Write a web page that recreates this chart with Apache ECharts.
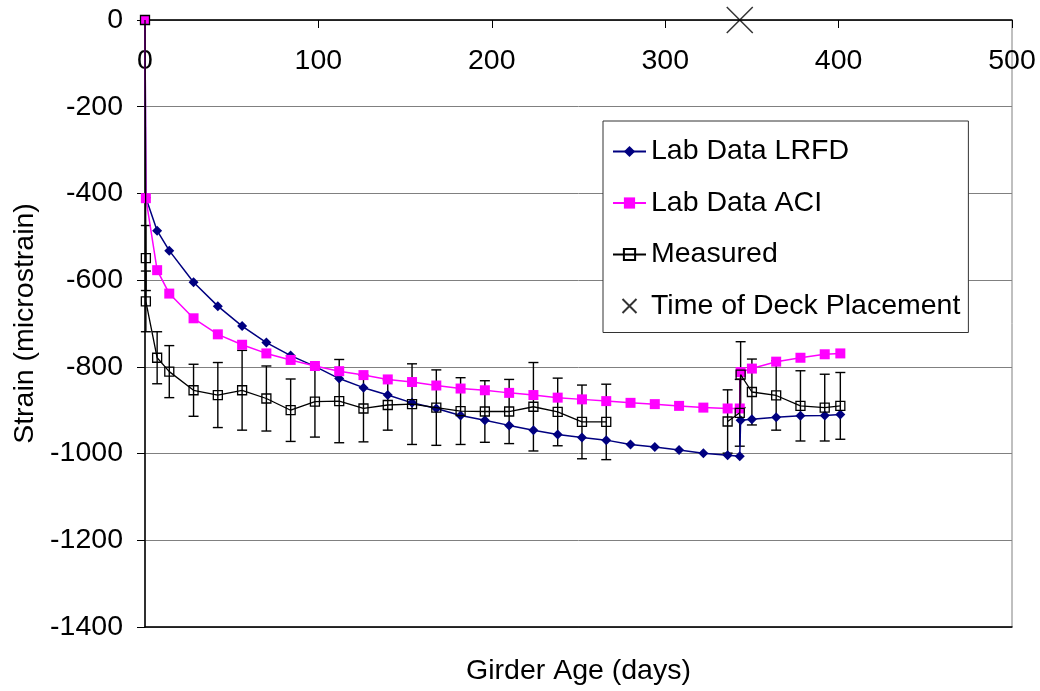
<!DOCTYPE html>
<html>
<head>
<meta charset="utf-8">
<script src="https://cdn.jsdelivr.net/npm/echarts@6/dist/echarts.min.js"></script>
<style>
html,body{margin:0;padding:0;background:#fff;}
#chart{width:1040px;height:691px;}
</style>
</head>
<body>
<div id="chart"></div>
<script>
// ---- data ----
const modelDays = [0, 0.5, 7, 14, 28, 42, 56, 70, 84, 98, 112, 126, 140, 154, 168, 182, 196, 210, 224, 238, 252, 266, 280, 294, 308, 322, 336, 343, 343.5, 350, 364, 378, 392, 401];
const lrfdStrain = [0, -410, -486, -532, -605, -660, -706, -744, -774, -799, -827, -848, -865, -883, -896, -912, -923, -935, -946, -956, -963, -969, -979, -985, -992, -999, -1004, -1006, -923, -921, -916, -913, -912, -910];
const aciStrain = [0, -411, -577, -631, -688, -725, -749, -769, -784, -798, -810, -819, -829, -835, -843, -850, -854, -860, -865, -871, -875, -879, -883, -886, -890, -894, -896, -896, -812, -804, -788, -779, -771, -769];

const measDays = [0, 0.5, 0.5, 7, 14, 28, 42, 56, 70, 84, 98, 112, 126, 140, 154, 168, 182, 196, 210, 224, 238, 252, 266, 336, 343, 343.5, 350, 364, 378, 392, 401];
const measStrain = [0, -549, -649, -779, -811, -854, -865, -854, -873, -900, -880, -879, -896, -888, -886, -894, -902, -903, -903, -892, -904, -927, -927, -926, -906, -818, -858, -866, -890, -894, -890];
const measErr = [0, 75, 70, 60, 60, 60, 75, 92, 75, 72, 82, 96, 77, 58, 93, 87, 77, 71, 74, 102, 78, 85, 87, 73, 77, 76, 76, 80, 81, 77, 77];
const measGapAfterDay = 266; // no measurements between 266 and 336 days

const deckDay = 343;
const deckStrain = 0;

const xTicks = {min: 0, max: 500, interval: 100};
const yTicks = {min: -1400, max: 0, interval: 200};

const seriesNames = ['Lab Data LRFD', 'Lab Data ACI', 'Measured', 'Time of Deck Placement'];
const xTitle = 'Girder Age (days)';
const yTitle = 'Strain (microstrain)';

// ---- build ----
const FONT = '"Liberation Sans", Arial, sans-serif';
const FS = 28.5;
const lrfdData = modelDays.map((d, i) => [d, lrfdStrain[i]]);
const aciData = modelDays.map((d, i) => [d, aciStrain[i]]);
const measData = [];
measDays.forEach((d, i) => {
  measData.push([d, measStrain[i]]);
  if (d === measGapAfterDay) measData.push(['-', '-']);
});
const errData = [];
measDays.forEach((d, i) => {
  if (measErr[i] > 0) errData.push([d, measStrain[i] - measErr[i], measStrain[i] + measErr[i]]);
});

const chart = echarts.init(document.getElementById('chart'), null, {renderer: 'canvas'});
chart.setOption({
  animation: false,
  backgroundColor: '#fff',
  textStyle: {fontFamily: FONT},
  grid: {left: 145, top: 20, right: 28, bottom: 63, show: true, borderColor: '#808080', borderWidth: 1, containLabel: false},
  legend: {
    data: seriesNames,
    orient: 'vertical',
    left: 603, top: 121,
    padding: [16, 8, 12, 9],
    itemGap: 22.5,
    itemWidth: 33, itemHeight: 14,
    borderColor: '#333', borderWidth: 1,
    backgroundColor: '#fff',
    textStyle: {fontSize: FS, color: '#000', fontFamily: FONT},
    selectedMode: false
  },
  xAxis: [{
    type: 'value', position: 'top',
    min: xTicks.min, max: xTicks.max, interval: xTicks.interval,
    axisLine: {show: true, onZero: false, lineStyle: {color: '#000', width: 1.5}},
    axisTick: {show: true, inside: true, length: 8, lineStyle: {color: '#000'}},
    axisLabel: {inside: true, margin: 27, fontSize: FS, color: '#000', fontFamily: FONT,
      formatter: v => String(v)},
    splitLine: {show: false}
  }, {
    type: 'value', position: 'bottom',
    min: xTicks.min, max: xTicks.max, interval: xTicks.interval,
    axisLine: {show: true, onZero: false, lineStyle: {color: '#000', width: 1.5}},
    axisTick: {show: false}, axisLabel: {show: false}, splitLine: {show: false},
    name: xTitle, nameLocation: 'middle', nameGap: 30,
    nameTextStyle: {fontSize: FS, color: '#000', fontFamily: FONT}
  }],
  yAxis: {
    type: 'value',
    min: yTicks.min, max: yTicks.max, interval: yTicks.interval,
    axisLine: {show: true, onZero: false, lineStyle: {color: '#000', width: 1.5}},
    axisTick: {show: true, inside: false, length: 8, lineStyle: {color: '#000'}},
    axisLabel: {margin: 22, fontSize: FS, color: '#000', fontFamily: FONT,
      formatter: v => String(v)},
    splitLine: {show: true, lineStyle: {color: '#808080', width: 1}},
    name: yTitle, nameLocation: 'middle', nameGap: 102, nameRotate: 90,
    nameTextStyle: {fontSize: FS, color: '#000', fontFamily: FONT}
  },
  series: [
    {
      name: 'errbars', type: 'custom', xAxisIndex: 0, z: 2,
      data: errData,
      encode: {x: 0, y: [1, 2]},
      renderItem: function (params, api) {
        const x = api.value(0);
        const p1 = api.coord([x, api.value(2)]);
        const p2 = api.coord([x, api.value(1)]);
        const w = 5;
        const st = {stroke: '#000', lineWidth: 1.4};
        return {type: 'group', children: [
          {type: 'line', shape: {x1: p1[0], y1: p1[1], x2: p2[0], y2: p2[1]}, style: st},
          {type: 'line', shape: {x1: p1[0] - w, y1: p1[1], x2: p1[0] + w, y2: p1[1]}, style: st},
          {type: 'line', shape: {x1: p2[0] - w, y1: p2[1], x2: p2[0] + w, y2: p2[1]}, style: st}
        ]};
      },
      silent: true
    },
    {
      name: seriesNames[0], type: 'line', xAxisIndex: 0, z: 3,
      data: lrfdData,
      symbol: 'diamond', symbolSize: 10,
      lineStyle: {color: '#000080', width: 1.5},
      itemStyle: {color: '#000080'}
    },
    {
      name: seriesNames[1], type: 'line', xAxisIndex: 0, z: 4,
      data: aciData,
      symbol: 'rect', symbolSize: 10,
      lineStyle: {color: '#FF00FF', width: 1.5},
      itemStyle: {color: '#FF00FF'}
    },
    {
      name: seriesNames[2], type: 'line', xAxisIndex: 0, z: 5,
      data: measData,
      connectNulls: false,
      symbol: 'rect', symbolSize: 9,
      lineStyle: {color: '#000', width: 1.3},
      itemStyle: {color: 'transparent', borderColor: '#000', borderWidth: 1.3}
    },
    {
      name: seriesNames[3], type: 'scatter', xAxisIndex: 0, z: 6,
      data: [[deckDay, deckStrain]],
      symbol: 'path://M0,0L10,10M10,0L0,10', symbolSize: 26,
      itemStyle: {color: 'none', borderColor: '#000', borderWidth: 1.5}
    }
  ]
});
</script>
</body>
</html>
